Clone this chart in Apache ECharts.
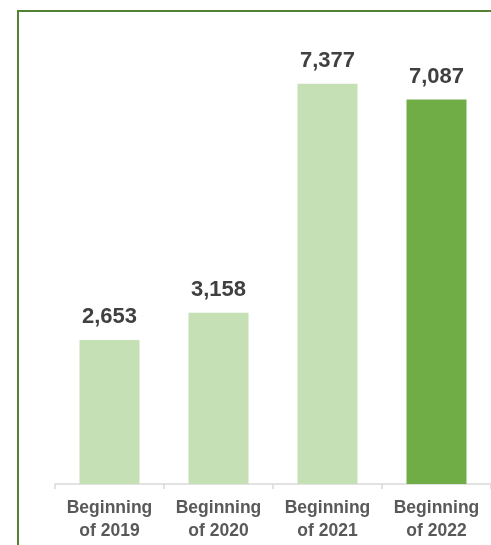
<!DOCTYPE html>
<html>
<head>
<meta charset="utf-8">
<script src="https://cdn.jsdelivr.net/npm/echarts@6/dist/echarts.min.js"></script>
<style>
  html, body { margin: 0; padding: 0; background: #fff; }
  #chart { width: 491px; height: 545px; }
</style>
</head>
<body>
<div id="chart"></div>
<script>
// Headcount at the beginning of each year
const categories = ['Beginning\nof 2019', 'Beginning\nof 2020', 'Beginning\nof 2021', 'Beginning\nof 2022'];
const values = [2653, 3158, 7377, 7087];
const barColors = ['#c5e0b4', '#c5e0b4', '#c5e0b4', '#70ad47'];

const chart = echarts.init(document.getElementById('chart'), null, { renderer: 'canvas' });

chart.setOption({
  animation: false,
  backgroundColor: '#ffffff',
  textStyle: { fontFamily: '"Liberation Sans", Arial, sans-serif' },
  graphic: [
    {
      type: 'polyline',
      shape: { points: [[18, 545], [18, 11], [491, 11]] },
      style: { stroke: '#548235', lineWidth: 2, fill: null }
    }
  ],
  grid: { left: 55, right: 0, top: 50, bottom: 61, containLabel: false },
  xAxis: {
    type: 'category',
    data: categories,
    axisLine: { show: true, lineStyle: { color: '#d9d9d9', width: 1.5 } },
    axisTick: { show: true, length: 5, lineStyle: { color: '#d9d9d9', width: 1.5 } },
    axisLabel: {
      color: '#595959',
      fontSize: 17.5,
      fontWeight: 'bold',
      lineHeight: 23,
      margin: 13,
      interval: 0
    }
  },
  yAxis: {
    type: 'value',
    min: 0,
    max: 8000,
    show: false,
    splitLine: { show: false }
  },
  series: [
    {
      type: 'bar',
      barWidth: 60,
      data: values.map((v, i) => ({ value: v, itemStyle: { color: barColors[i] } })),
      label: {
        show: true,
        position: 'top',
        distance: 12,
        color: '#404040',
        fontSize: 22,
        fontWeight: 'bold',
        formatter: p => p.value.toLocaleString('en-US')
      }
    }
  ]
});
</script>
</body>
</html>
